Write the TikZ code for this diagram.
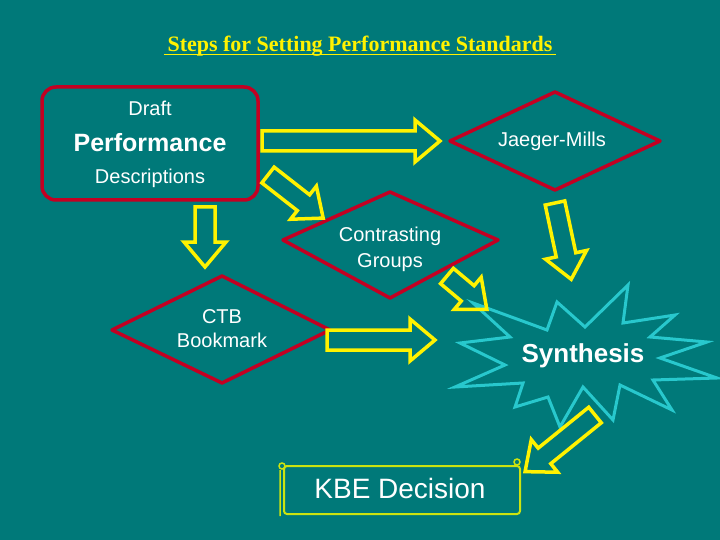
\documentclass[tikz,border=0pt]{standalone}
\usepackage{fontspec}
\setmainfont{Liberation Sans}
\newfontfamily\titlefont{Liberation Serif}
\definecolor{starc}{RGB}{40,200,205}
\begin{document}
\begin{tikzpicture}[x=1pt,y=-1pt,
  redline/.style={draw=red!85!blue!90!black, line width=3.5pt, line join=round},
  yarrow/.style={draw=yellow, line width=3.5pt, line join=miter},
  lbl/.style={text=white, align=center, font=\fontsize{20}{22}\selectfont},
  barrow/.pic={\draw[yarrow] (0,-10)--(#1-25,-10)--(#1-25,-21)--(#1,0)--(#1-25,21)--(#1-25,10)--(0,10)--cycle;}]
\fill[teal!95!black] (0,0) rectangle (720,540);
\useasboundingbox (0,0) rectangle (720,540);
\node[text=yellow, font=\titlefont\bfseries\fontsize{22}{24}\selectfont] (title) at (360,46) {Steps for Setting Performance Standards};
\draw[yellow, line width=1pt] (title.base west)++(0,3) -- ([yshift=-3pt]title.base east);
% draft box
\draw[redline, rounded corners=14pt] (42,87) rectangle (258,200);
\node[lbl] (d1) at (150,108) {Draft};
\node[lbl, font=\bfseries\fontsize{25}{27}\selectfont] (d2) at (150,143) {Performance};
\node[lbl] (d3) at (150,178) {Descriptions};
% diamonds
\draw[redline] (450,141)--(555,92)--(660,141)--(555,190)--cycle;
\node[lbl] (jm) at (552,141) {Jaeger-Mills};
\draw[redline] (283,240)--(390,192)--(498,240)--(390,298)--cycle;
\node[lbl, font=\fontsize{20}{26}\selectfont] (cg) at (390,249) {Contrasting\\Groups};
\draw[redline] (112,330)--(222,276)--(330,330)--(222,383)--cycle;
\node[lbl, font=\fontsize{20}{24}\selectfont] (ctb) at (222,329) {CTB\\Bookmark};
% star
\draw[draw=starc, line width=3pt, line join=miter]
 (473,303)--(547,330)--(557,302)--(585,327)--(628,285)--(623,323)--(675,315)--(650,337)--(707,342)--(660,358)--(717,378)--(653,380)--(672,410)--(620,385)--(613,420)--(583,387)--(560,427)--(548,397)--(515,407)--(523,383)--(455,387)--(505,365)--(460,343)--(510,337)--cycle;
\node[lbl, font=\bfseries\fontsize{26}{28}\selectfont] (syn) at (583,356) {Synthesis};
% KBE scroll
\draw[draw=yellow!80!green, line width=2pt, rounded corners=3pt] (284,466) rectangle (520,514);
\draw[draw=yellow!80!green, line width=1.5pt] (280,470)--(280,516) (517,462) circle (3pt) (282,466) circle (3pt);
\node[lbl, font=\fontsize{28}{30}\selectfont] (kbe) at (400,488) {KBE Decision};
% arrows
\pic at (262,141) {barrow=178};
\pic[rotate=-38] at (268,175) {barrow=70};
\pic[rotate=-90] at (205,207) {barrow=60};
\pic[rotate=-78] at (555,203) {barrow=78};
\pic at (327,340) {barrow=108};
\pic[rotate=-40] at (447,276) {barrow=52};
\pic[rotate=-141] at (595,415) {barrow=90};
\end{tikzpicture}
\end{document}
